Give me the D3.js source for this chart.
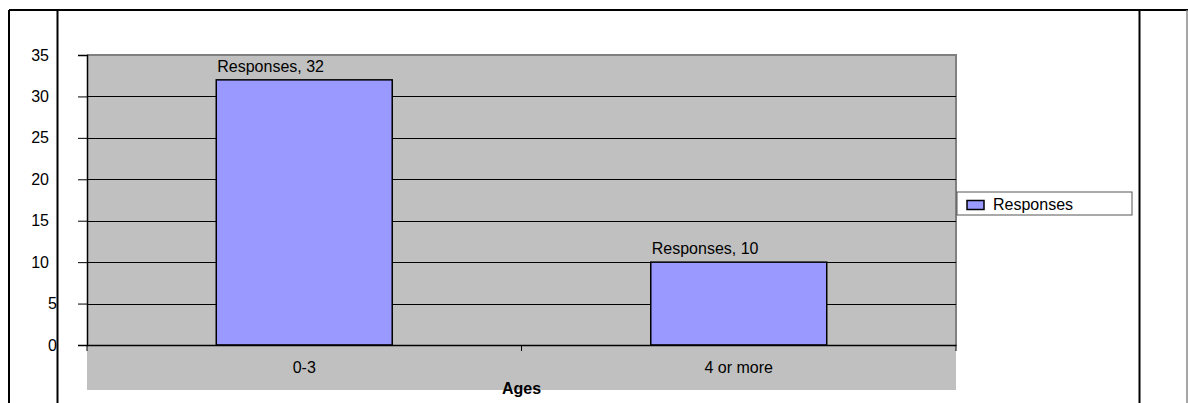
<!DOCTYPE html>
<html>
<head>
<meta charset="utf-8">
<script src="https://cdn.jsdelivr.net/npm/d3@7"></script>
<style>
  body { margin: 0; background: #fff; }
  svg text { font-family: "Liberation Sans", Arial, sans-serif; }
</style>
</head>
<body>
<div id="chart"></div>
<script>
// Chart data
const categories = ["0-3", "4 or more"];
const responses = [32, 10];
const yTicks = [0, 5, 10, 15, 20, 25, 30, 35];
const seriesName = "Responses";
const xTitle = "Ages";

const width = 1188, height = 403;
const plot = { left: 87, right: 956, top: 55, bottom: 345 };
const fontSize = "16px";

const svg = d3.select("#chart").append("svg")
    .attr("width", width)
    .attr("height", height);

// Outer table-like frame
svg.append("line").attr("x1", 9).attr("x2", width).attr("y1", 10).attr("y2", 10)
    .attr("stroke", "#000").attr("stroke-width", 2);
[9, 57.5, 1139.5].forEach(x => {
    svg.append("line").attr("x1", x).attr("x2", x).attr("y1", 10).attr("y2", height)
        .attr("stroke", "#000").attr("stroke-width", 2);
});
svg.append("line").attr("x1", 1187).attr("x2", 1187).attr("y1", 10).attr("y2", height)
    .attr("stroke", "#888").attr("stroke-width", 1.5);

// Scales
const x = d3.scaleBand()
    .domain(categories)
    .range([plot.left, plot.right])
    .paddingInner(0.595)
    .paddingOuter(0.2975);

const xSlot = d3.scaleBand()
    .domain(categories)
    .range([plot.left, plot.right]);

const y = d3.scaleLinear()
    .domain([0, 35])
    .range([plot.bottom, plot.top]);

// Gray plot area + category label band
svg.append("rect")
    .attr("x", plot.left).attr("y", plot.top)
    .attr("width", plot.right - plot.left).attr("height", 390 - plot.top)
    .attr("fill", "#c0c0c0");
svg.append("polyline")
    .attr("points", `${plot.left},${plot.top} ${plot.right},${plot.top} ${plot.right},${plot.bottom}`)
    .attr("fill", "none").attr("stroke", "#808080").attr("stroke-width", 2);

// Gridlines
svg.append("g")
    .selectAll("line")
    .data(yTicks.filter(d => d > 0 && d < 35))
    .join("line")
        .attr("x1", plot.left).attr("x2", plot.right)
        .attr("y1", d => Math.round(y(d)) + 0.5).attr("y2", d => Math.round(y(d)) + 0.5)
        .attr("stroke", "#000").attr("stroke-width", 1);

// Bars
svg.append("g")
    .selectAll("rect")
    .data(responses)
    .join("rect")
        .attr("x", (d, i) => x(categories[i]))
        .attr("y", d => y(d))
        .attr("width", x.bandwidth())
        .attr("height", d => y(0) - y(d))
        .attr("fill", "#9999ff")
        .attr("stroke", "#000")
        .attr("stroke-width", 1.5);

// Data labels
svg.append("g")
    .selectAll("text")
    .data(responses)
    .join("text")
        .attr("x", (d, i) => x(categories[i]) + 1)
        .attr("y", d => y(d) - 8)
        .attr("font-size", fontSize)
        .attr("fill", "#000")
        .text(d => `${seriesName}, ${d}`);

// Y axis
const yAxis = svg.append("g")
    .attr("transform", `translate(${plot.left},0)`)
    .call(d3.axisLeft(y).tickValues(yTicks).tickSize(9).tickPadding(0));
yAxis.select(".domain").attr("stroke", "#000").attr("stroke-width", 1.5);
yAxis.selectAll(".tick line").attr("stroke", "#000");
yAxis.selectAll(".tick text")
    .attr("x", d => d < 10 ? -30 : -38)
    .attr("font-size", fontSize)
    .attr("font-family", "Liberation Sans, Arial, sans-serif")
    .attr("fill", "#000");

// X axis
const xAxis = svg.append("g")
    .attr("transform", `translate(0,${plot.bottom})`)
    .call(d3.axisBottom(xSlot).tickSize(0).tickPadding(17));
xAxis.select(".domain").attr("stroke", "#000").attr("stroke-width", 1.5);
xAxis.selectAll(".tick text")
    .attr("font-size", fontSize)
    .attr("font-family", "Liberation Sans, Arial, sans-serif")
    .attr("fill", "#000");
// Category separator ticks
const sepTicks = [plot.left, ...categories.map(c => xSlot(c) + xSlot.bandwidth())];
xAxis.append("g")
    .selectAll("line")
    .data(sepTicks)
    .join("line")
        .attr("x1", d => d).attr("x2", d => d)
        .attr("y1", 0).attr("y2", 6)
        .attr("stroke", "#000");

// X title
svg.append("text")
    .attr("x", (plot.left + plot.right) / 2)
    .attr("y", 394)
    .attr("text-anchor", "middle")
    .attr("font-size", fontSize)
    .attr("font-weight", "bold")
    .text(xTitle);

// Legend
const legend = svg.append("g").attr("transform", "translate(957,192)");
legend.append("rect")
    .attr("width", 175).attr("height", 23)
    .attr("fill", "#fff").attr("stroke", "#555").attr("stroke-width", 1);
legend.append("rect")
    .attr("x", 10).attr("y", 8.5).attr("width", 17).attr("height", 9)
    .attr("fill", "#9999ff").attr("stroke", "#000").attr("stroke-width", 1.5);
legend.append("text")
    .attr("x", 36).attr("y", 17.5)
    .attr("font-size", fontSize)
    .text(seriesName);
</script>
</body>
</html>
